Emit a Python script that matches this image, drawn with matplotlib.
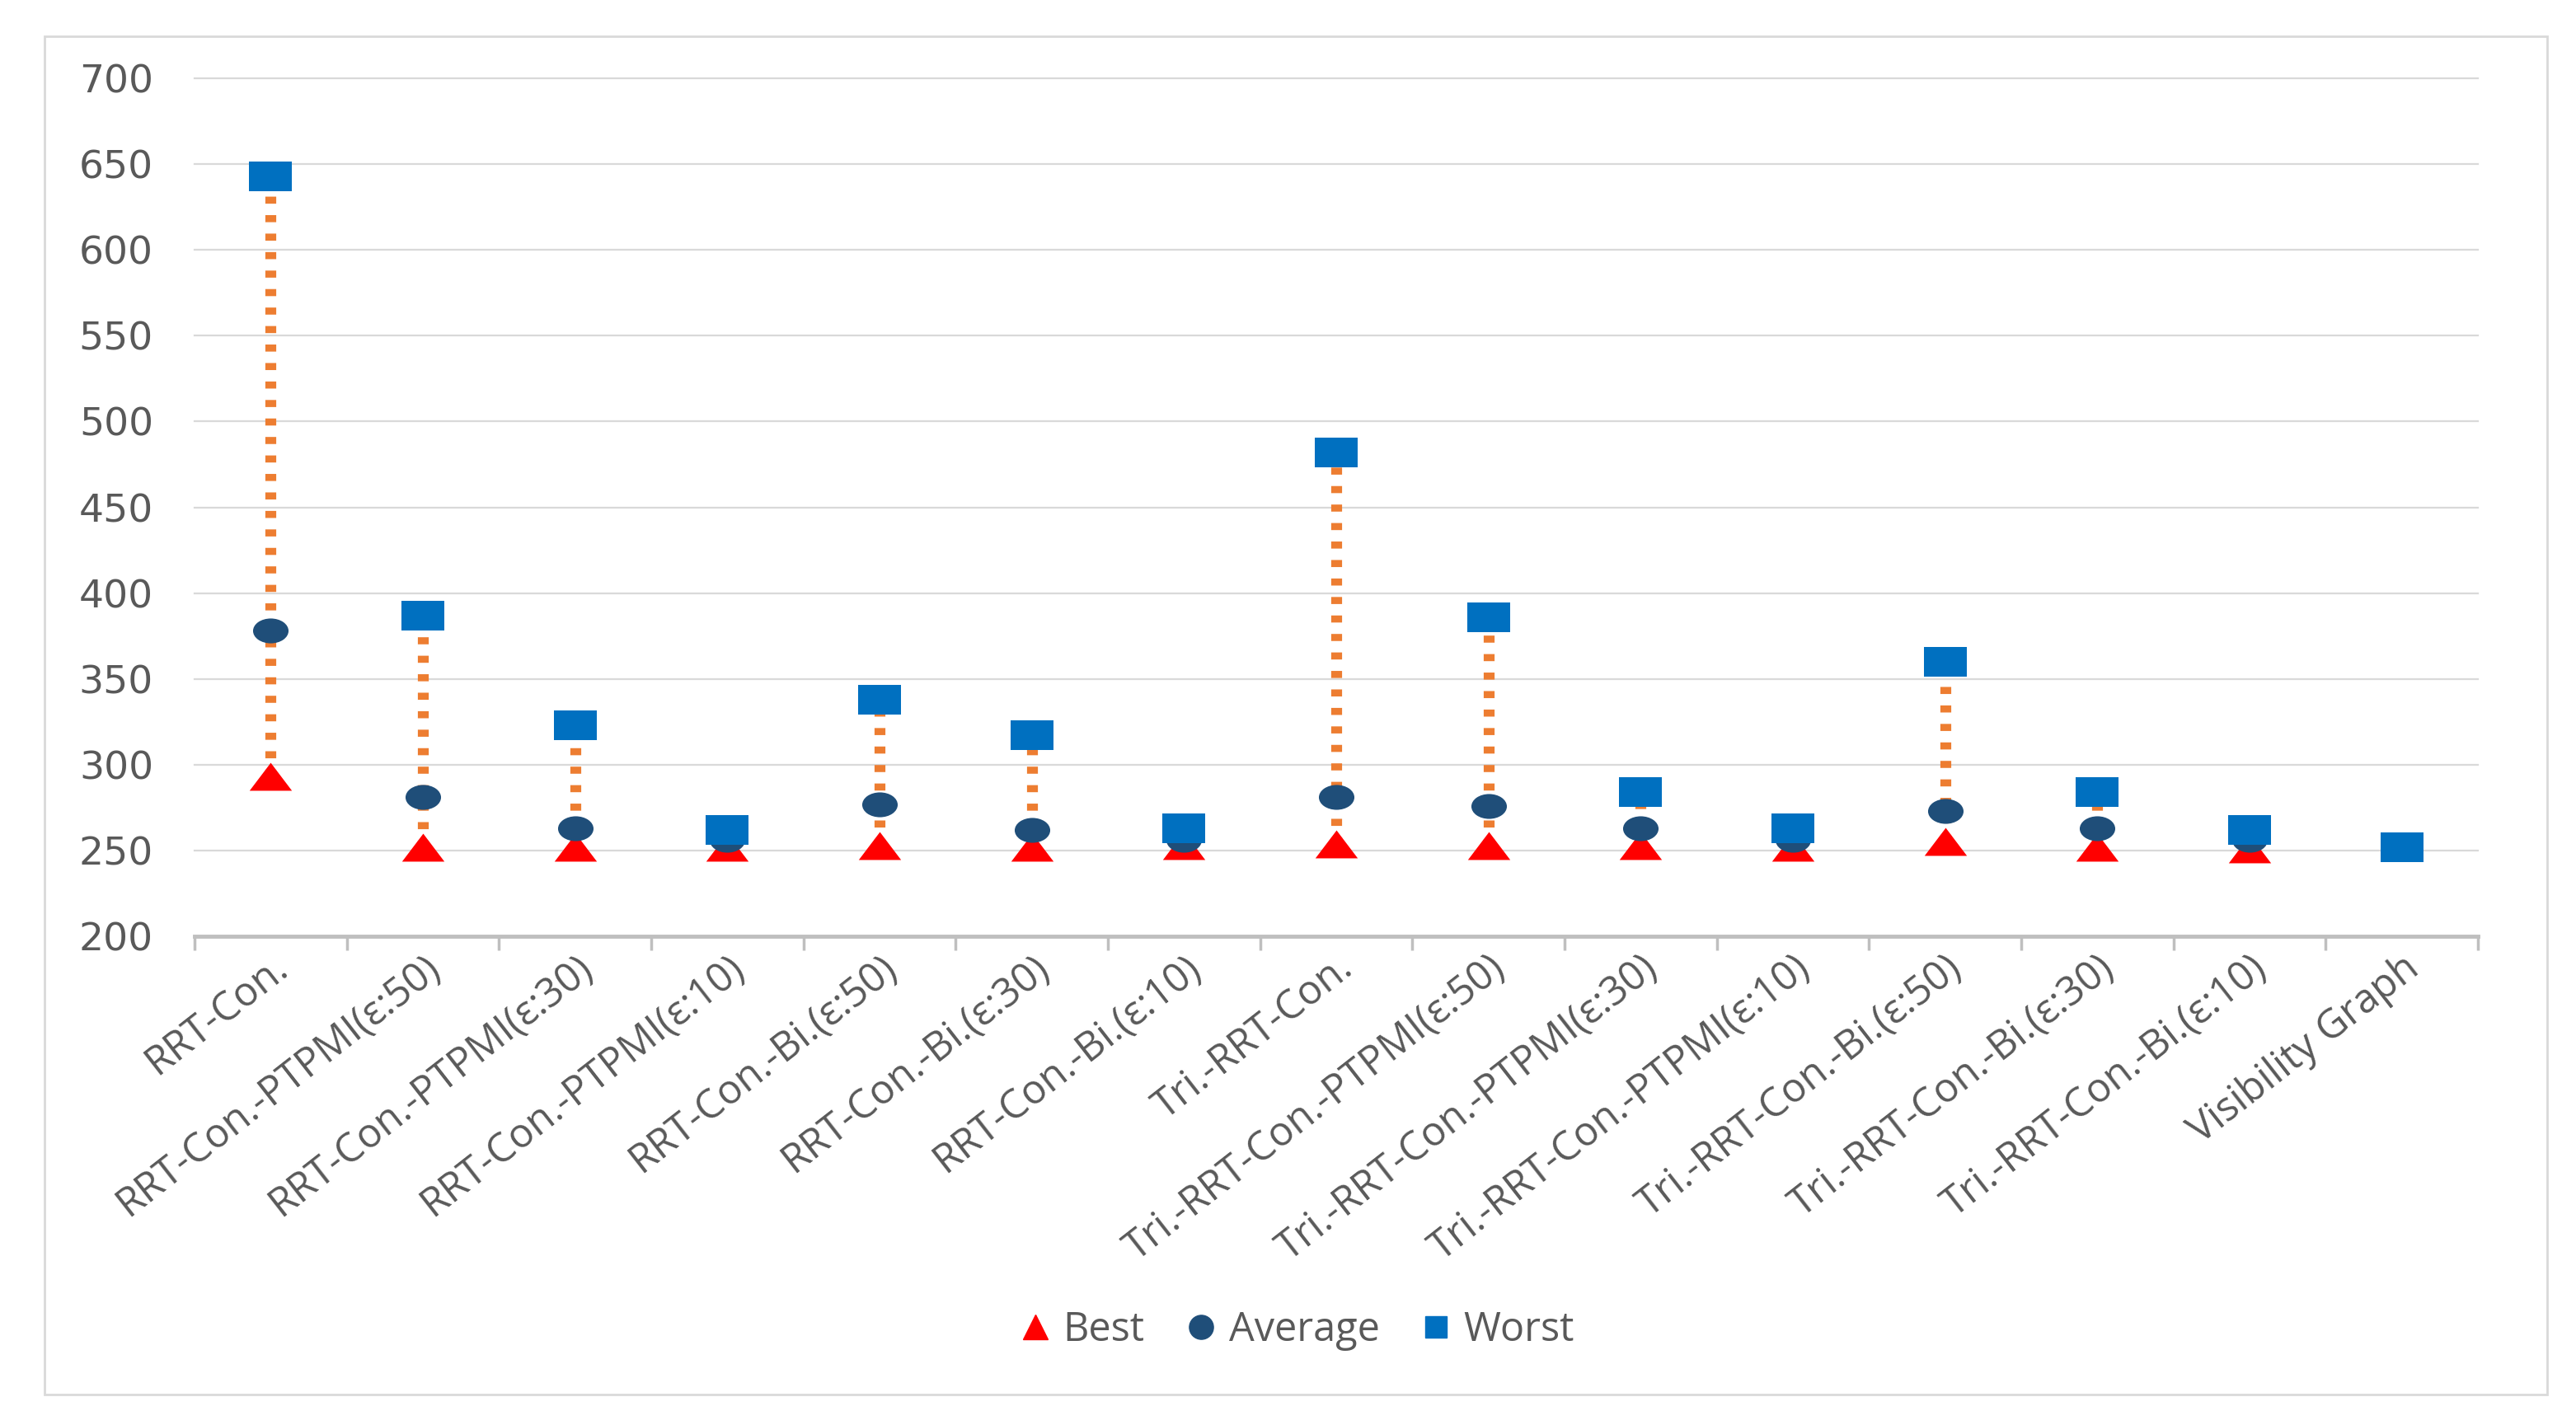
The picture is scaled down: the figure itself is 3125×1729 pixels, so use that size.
import numpy as np
import matplotlib
matplotlib.use('Agg')
import matplotlib.pyplot as plt
from matplotlib.path import Path
from matplotlib.transforms import Affine2D
from matplotlib.lines import Line2D
from matplotlib.patches import Rectangle

plt.rcParams['font.family'] = ['Open Sans', 'DejaVu Sans']

categories = ['RRT-Con.', 'RRT-Con.-PTPMI(ε:50)', 'RRT-Con.-PTPMI(ε:30)',
              'RRT-Con.-PTPMI(ε:10)', 'RRT-Con.-Bi.(ε:50)', 'RRT-Con.-Bi.(ε:30)',
              'RRT-Con.-Bi.(ε:10)', 'Tri.-RRT-Con.', 'Tri.-RRT-Con.-PTPMI(ε:50)',
              'Tri.-RRT-Con.-PTPMI(ε:30)', 'Tri.-RRT-Con.-PTPMI(ε:10)',
              'Tri.-RRT-Con.-Bi.(ε:50)', 'Tri.-RRT-Con.-Bi.(ε:30)',
              'Tri.-RRT-Con.-Bi.(ε:10)', 'Visibility Graph']
best = [293, 252, 252, 252, 253, 252, 253, 254, 253, 253, 252, 255, 252, 251, 252]
average = [378, 281, 263, 256, 277, 262, 256, 281, 276, 263, 256, 273, 263, 256, 252]
worst = [643, 387, 323, 262, 338, 317, 263, 482, 386, 284, 263, 360, 284, 262, 252]
yticks = [200, 250, 300, 350, 400, 450, 500, 550, 600, 650, 700]

C_BEST = '#FF0000'
C_AVG = '#1F4E79'
C_WORST = '#0070C0'
C_LINE = '#ED7D31'
C_TEXT = '#595959'

# 原图被横向拉宽，标记也做成扁的
m_rect = Path([(-0.5, -0.345), (0.5, -0.345), (0.5, 0.345), (-0.5, 0.345), (-0.5, -0.345)],
              [Path.MOVETO, Path.LINETO, Path.LINETO, Path.LINETO, Path.CLOSEPOLY])
m_ell = Path.unit_circle().transformed(Affine2D().scale(0.5, 0.35))
m_tri = Path([(-0.5, -0.33), (0.5, -0.33), (0.0, 0.33), (-0.5, -0.33)],
             [Path.MOVETO, Path.LINETO, Path.LINETO, Path.CLOSEPOLY])

fig = plt.figure(figsize=(31.25, 17.29), dpi=100)
fig.patches.append(Rectangle((54 / 3125, 1 - 1692 / 1729), (3090 - 54) / 3125,
                             (1692 - 44) / 1729, transform=fig.transFigure,
                             fill=False, edgecolor='#D9D9D9', lw=2))
ax = fig.add_axes([236 / 3125, 1 - 1136 / 1729, 2770 / 3125, (1136 - 95) / 1729])

x = np.arange(len(categories))
ax.vlines(x, best, worst, colors=C_LINE, linestyles=(0, (0.65, 1.05)), lw=9.5,
          zorder=2, capstyle='butt')
ax.plot(x, best, linestyle='none', marker=m_tri, markersize=37, color=C_BEST,
        markeredgewidth=0, zorder=3)
ax.plot(x, average, linestyle='none', marker=m_ell, markersize=31, color=C_AVG,
        markeredgewidth=0, zorder=4)
ax.plot(x, worst, linestyle='none', marker=m_rect, markersize=38, color=C_WORST,
        markeredgewidth=0, zorder=5)

ax.set_xlim(-0.5, len(categories) - 0.5)
ax.set_ylim(200, 700)
ax.set_yticks(yticks)
ax.set_yticklabels([str(v) for v in yticks], family='DejaVu Sans')
ax.tick_params(axis='y', length=0, pad=36, labelsize=34, labelcolor=C_TEXT)
ax.grid(axis='y', color='#D9D9D9', lw=1.6, zorder=0)
for gl in ax.get_ygridlines():
    gl.set_clip_on(False)
ax.set_axisbelow(True)

ax.set_xticks(x)
ax.set_xticklabels(categories, rotation=38, ha='right', rotation_mode='anchor',
                   fontsize=35, color=C_TEXT)
ax.tick_params(axis='x', which='major', length=0, pad=10)
ax.set_xticks(np.arange(-0.5, len(categories), 1.0), minor=True)
ax.tick_params(axis='x', which='minor', length=12, width=2.5, color='#BFBFBF',
               direction='out')

for s in ['top', 'right', 'left']:
    ax.spines[s].set_visible(False)
ax.spines['bottom'].set_color('#BFBFBF')
ax.spines['bottom'].set_linewidth(3.5)
ax.spines['bottom'].set_zorder(1)

handles = [Line2D([], [], linestyle='none', marker='^', markersize=21, color=C_BEST),
           Line2D([], [], linestyle='none', marker='o', markersize=21, color=C_AVG),
           Line2D([], [], linestyle='none', marker='s', markersize=19, color=C_WORST)]
fig.legend(handles, ['Best', 'Average', 'Worst'], loc='center',
           bbox_to_anchor=(0.503, 1 - 1614 / 1729), ncol=3, frameon=False,
           fontsize=35, labelcolor=C_TEXT, handletextpad=0.25, columnspacing=0.95,
           handlelength=0.9)

fig.savefig('out.png', dpi=100)
